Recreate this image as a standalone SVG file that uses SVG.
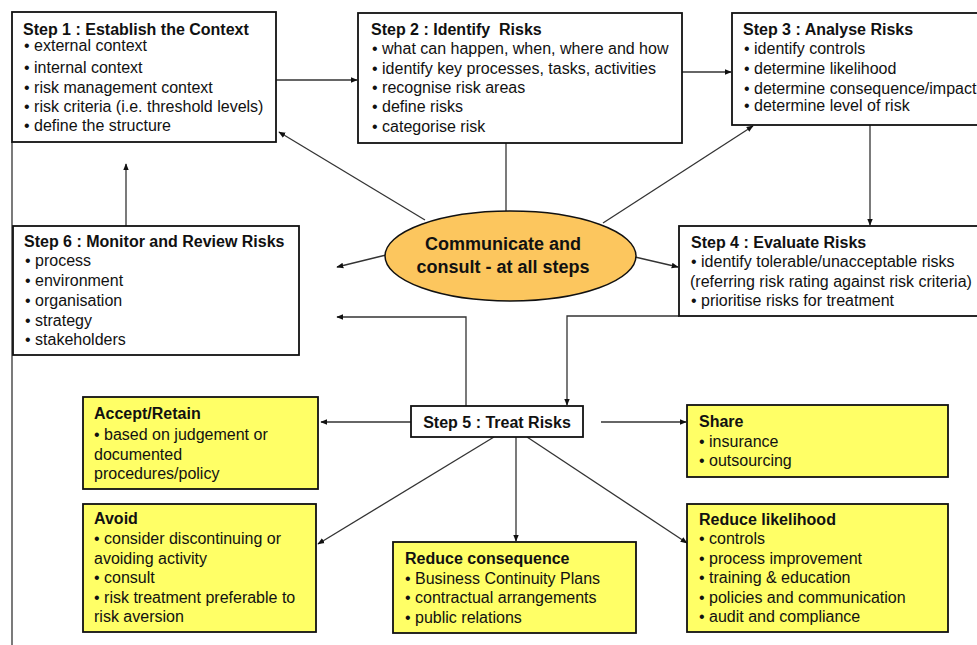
<svg xmlns="http://www.w3.org/2000/svg" width="977" height="645" viewBox="0 0 977 645">
<style>
text{font-family:"Liberation Sans",Arial,sans-serif;font-size:16px;fill:#111}
.t{font-weight:bold}
.box{fill:#fff;stroke:#111;stroke-width:1.8}
.yb{fill:#ffff66;stroke:#111;stroke-width:1.8}
.c{fill:none;stroke:#333;stroke-width:1.3}
</style>
<defs>
<marker id="a" viewBox="0 0 10 10" refX="9" refY="5" markerWidth="7" markerHeight="7" orient="auto" markerUnits="userSpaceOnUse"><path d="M0,1 L10,5 L0,9 z" fill="#111"/></marker>
</defs>
<rect width="977" height="645" fill="#fff"/>
<g id="connectors">
<line class="c" x1="12" y1="142" x2="12" y2="645"/>
<line class="c" x1="276" y1="80" x2="357" y2="80" marker-end="url(#a)"/>
<line class="c" x1="682" y1="72" x2="731" y2="72" marker-end="url(#a)"/>
<line class="c" x1="870" y1="125" x2="870" y2="225" marker-end="url(#a)"/>
<line class="c" x1="126" y1="226" x2="126" y2="164" marker-end="url(#a)"/>
<line class="c" x1="425" y1="220" x2="279" y2="132" marker-end="url(#a)"/>
<line class="c" x1="506" y1="143" x2="506" y2="211"/>
<line class="c" x1="603" y1="223" x2="753" y2="126" marker-end="url(#a)"/>
<line class="c" x1="386" y1="255" x2="337" y2="267" marker-end="url(#a)"/>
<line class="c" x1="635" y1="257" x2="678" y2="267" marker-end="url(#a)"/>
<polyline class="c" points="466,406 466,317 337,317" marker-end="url(#a)"/>
<polyline class="c" points="679,316 567,316 567,405" marker-end="url(#a)"/>
<line class="c" x1="411" y1="422" x2="321" y2="422" marker-end="url(#a)"/>
<line class="c" x1="601" y1="422" x2="686" y2="422" marker-end="url(#a)"/>
<line class="c" x1="494" y1="437" x2="318" y2="544" marker-end="url(#a)"/>
<line class="c" x1="516" y1="437" x2="516" y2="541" marker-end="url(#a)"/>
<line class="c" x1="527" y1="437" x2="687" y2="543" marker-end="url(#a)"/>
</g>
<g id="step1">
<rect class="box" x="12" y="12" width="264" height="130"/>
<text class="t" x="23" y="35">Step 1 : Establish the Context</text>
<text x="24" y="51">• external context</text>
<text x="24" y="73">• internal context</text>
<text x="24" y="93">• risk management context</text>
<text x="24" y="112">• risk criteria (i.e. threshold levels)</text>
<text x="24" y="131">• define the structure</text>
</g>
<g id="step2">
<rect class="box" x="358" y="13" width="324" height="130"/>
<text class="t" x="371" y="35" xml:space="preserve" style="white-space:pre">Step 2 : Identify  Risks</text>
<text x="372" y="54">• what can happen, when, where and how</text>
<text x="372" y="74">• identify key processes, tasks, activities</text>
<text x="372" y="93">• recognise risk areas</text>
<text x="372" y="112">• define risks</text>
<text x="372" y="132">• categorise risk</text>
</g>
<g id="step3">
<rect class="box" x="732" y="13" width="260" height="112"/>
<text class="t" x="743" y="35">Step 3 : Analyse Risks</text>
<text x="744" y="54">• identify controls</text>
<text x="744" y="74">• determine likelihood</text>
<text x="744" y="94">• determine consequence/impact</text>
<text x="744" y="111">• determine level of risk</text>
</g>
<g id="step6">
<rect class="box" x="13" y="226" width="286" height="129"/>
<text class="t" x="24" y="247">Step 6 : Monitor and Review Risks</text>
<text x="25" y="266">• process</text>
<text x="25" y="286">• environment</text>
<text x="25" y="306">• organisation</text>
<text x="25" y="326">• strategy</text>
<text x="25" y="345">• stakeholders</text>
</g>
<g id="communicate">
<ellipse cx="510.5" cy="256" rx="125.5" ry="45" fill="#fcc65e" stroke="#111" stroke-width="1.5"/>
<text class="t" x="503" y="250" text-anchor="middle" style="font-size:18px">Communicate and</text>
<text class="t" x="503" y="273" text-anchor="middle" style="font-size:18px">consult - at all steps</text>
</g>
<g id="step4">
<rect class="box" x="679" y="226" width="310" height="90"/>
<text class="t" x="691" y="248">Step 4 : Evaluate Risks</text>
<text x="691" y="267">• identify tolerable/unacceptable risks</text>
<text x="690" y="287">(referring risk rating against risk criteria)</text>
<text x="691" y="306">• prioritise risks for treatment</text>
</g>
<g id="step5">
<rect class="box" x="411" y="406" width="172" height="31"/>
<text class="t" x="497" y="428" text-anchor="middle">Step 5 : Treat Risks</text>
</g>
<g id="accept">
<rect class="yb" x="83" y="397" width="235" height="92"/>
<text class="t" x="94" y="419">Accept/Retain</text>
<text x="94" y="440">• based on judgement or</text>
<text x="94" y="460">documented</text>
<text x="94" y="479">procedures/policy</text>
</g>
<g id="share">
<rect class="yb" x="687" y="405" width="261" height="72"/>
<text class="t" x="699" y="427">Share</text>
<text x="699" y="447">• insurance</text>
<text x="699" y="466">• outsourcing</text>
</g>
<g id="avoid">
<rect class="yb" x="83" y="504" width="233" height="128"/>
<text class="t" x="94" y="524">Avoid</text>
<text x="94" y="544">• consider discontinuing or</text>
<text x="94" y="564">avoiding activity</text>
<text x="94" y="583">• consult</text>
<text x="94" y="603">• risk treatment preferable to</text>
<text x="94" y="622">risk aversion</text>
</g>
<g id="reduce-consequence">
<rect class="yb" x="393" y="542" width="243" height="91"/>
<text class="t" x="405" y="564">Reduce consequence</text>
<text x="405" y="584">• Business Continuity Plans</text>
<text x="405" y="603">• contractual arrangements</text>
<text x="405" y="623">• public relations</text>
</g>
<g id="reduce-likelihood">
<rect class="yb" x="687" y="504" width="261" height="128"/>
<text class="t" x="699" y="525">Reduce likelihood</text>
<text x="699" y="544">• controls</text>
<text x="699" y="564">• process improvement</text>
<text x="699" y="583">• training &amp; education</text>
<text x="699" y="603">• policies and communication</text>
<text x="699" y="622">• audit and compliance</text>
</g>
</svg>
